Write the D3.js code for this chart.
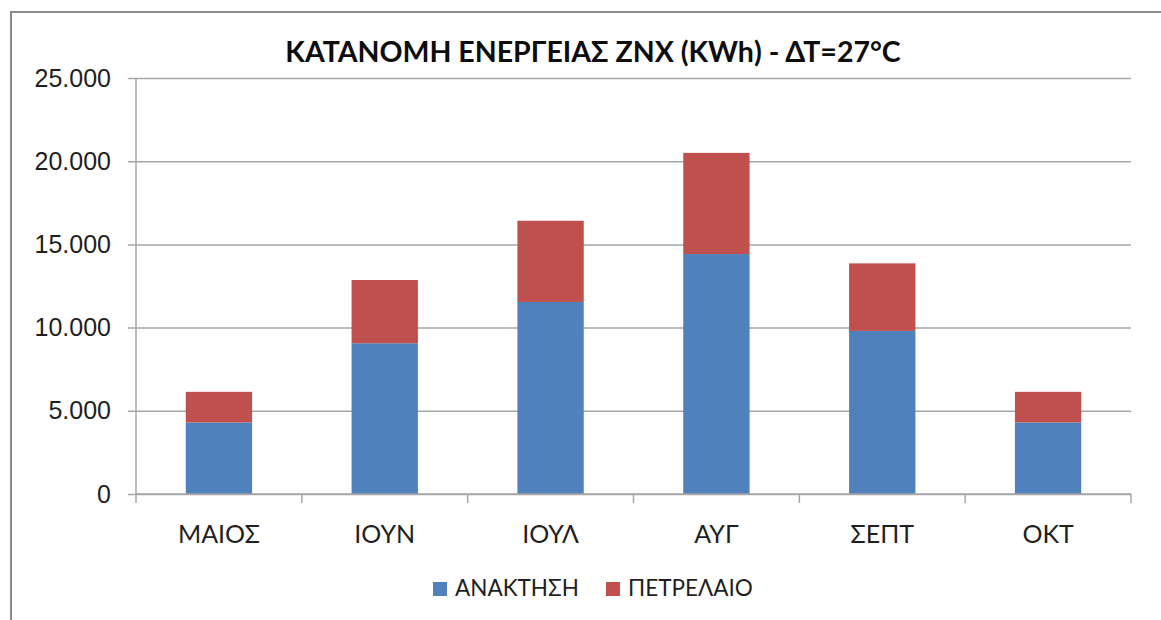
<!DOCTYPE html>
<html>
<head>
<meta charset="utf-8">
<script src="https://cdn.jsdelivr.net/npm/d3@7"></script>
<style>
  body { margin: 0; background: #fff; }
  svg { display: block; font-family: Lato, 'Noto Sans', sans-serif; }
  .axis path, .axis line { stroke: #a6a6a6; stroke-width: 1.5; }
  .axis text { fill: #1f1f1f; }
</style>
</head>
<body>
<svg width="1161" height="620"></svg>
<script>
const months = ['ΜΑΙΟΣ', 'ΙΟΥΝ', 'ΙΟΥΛ', 'ΑΥΓ', 'ΣΕΠΤ', 'ΟΚΤ']
const recovery = [4300, 9060, 11540, 14420, 9800, 4300]
const oil = [1840, 3800, 4880, 6080, 4060, 1840]
const yTicks = [0, 5000, 10000, 15000, 20000, 25000]
const seriesNames = ['ΑΝΑΚΤΗΣΗ', 'ΠΕΤΡΕΛΑΙΟ']
const colors = ['#4f81bd', '#c0504d']

const svg = d3.select('svg')
const m = { left: 136, right: 1131, top: 78, bottom: 494 }

const grFormat = d3.formatLocale({ decimal: ',', thousands: '.', grouping: [3], currency: ['', '€'] }).format(',')

// outer frame (only left and top edges are visible in the shot)
svg.append('rect')
    .attr('x', 11).attr('y', 12)
    .attr('width', 1300).attr('height', 800)
    .attr('fill', 'none')
    .attr('stroke', '#8a8a8a')
    .attr('stroke-width', 2)

const x = d3.scaleBand().domain(months).range([m.left, m.right]).paddingInner(0.6).paddingOuter(0.3)
const y = d3.scaleLinear().domain([0, 25000]).range([m.bottom, m.top])

// gridlines + y labels
const yAxis = svg.append('g')
    .attr('class', 'axis')
    .attr('transform', 'translate(' + m.left + ',0)')
    .call(d3.axisLeft(y).tickValues(yTicks).tickFormat(grFormat).tickSize(8).tickPadding(17))
yAxis.select('.domain').remove()
yAxis.selectAll('.tick line')
    .attr('x1', -8).attr('x2', m.right - m.left)
yAxis.selectAll('text').style('font-size', '25px')
yAxis.append('line')
    .attr('x1', 0).attr('x2', 0)
    .attr('y1', m.top).attr('y2', m.bottom)

// stacked bars
const stackData = months.map((mo, i) => ({ month: mo, a: recovery[i], b: oil[i] }))
const stacked = d3.stack().keys(['a', 'b'])(stackData)

svg.append('g').selectAll('g')
  .data(stacked).enter().append('g')
    .attr('fill', (d, i) => colors[i])
  .selectAll('rect')
  .data(d => d).enter().append('rect')
    .attr('x', d => x(d.data.month))
    .attr('width', x.bandwidth())
    .attr('y', d => y(d[1]))
    .attr('height', d => y(d[0]) - y(d[1]))

// x axis with ticks on band boundaries
const boundaries = d3.range(months.length + 1).map(i => m.left + i * (m.right - m.left) / months.length)
const xg = svg.append('g').attr('class', 'axis')
xg.append('line')
    .attr('x1', m.left).attr('x2', m.right)
    .attr('y1', m.bottom).attr('y2', m.bottom)
xg.selectAll('.bt').data(boundaries).enter().append('line')
    .attr('x1', d => d).attr('x2', d => d)
    .attr('y1', m.bottom).attr('y2', m.bottom + 9)
xg.selectAll('text').data(months).enter().append('text')
    .attr('x', d => x(d) + x.bandwidth() / 2)
    .attr('y', 543)
    .attr('text-anchor', 'middle')
    .style('font-size', '25px')
    .text(d => d)

// title
svg.append('text')
    .attr('x', 593).attr('y', 62)
    .attr('text-anchor', 'middle')
    .style('font-size', '28.5px')
    .style('font-weight', 'bold')
    .attr('fill', '#0d0d0d')
    .text('ΚΑΤΑΝΟΜΗ ΕΝΕΡΓΕΙΑΣ ΖΝΧ (KWh) - ΔΤ=27°C')

// legend
const legendX = [433, 606]
const lg = svg.append('g').selectAll('g')
  .data(seriesNames).enter().append('g')
    .attr('transform', (d, i) => 'translate(' + legendX[i] + ',582)')
lg.append('rect')
    .attr('width', 14).attr('height', 14)
    .attr('fill', (d, i) => colors[i])
lg.append('text')
    .attr('x', 22).attr('y', 14)
    .style('font-size', '22.5px')
    .attr('fill', '#1f1f1f')
    .text(d => d)
</script>
</body>
</html>
